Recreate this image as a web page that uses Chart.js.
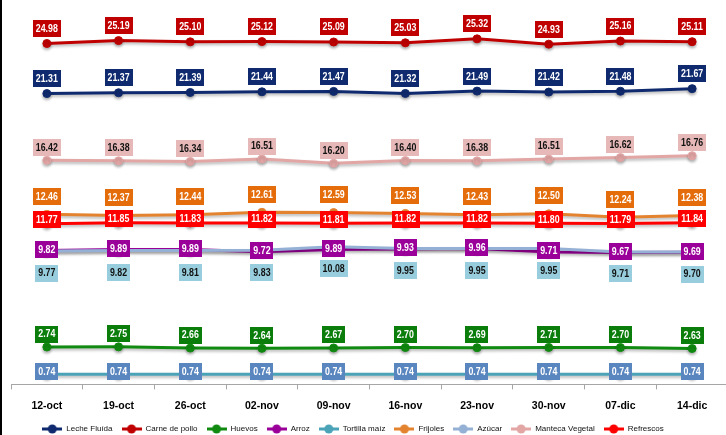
<!DOCTYPE html>
<html><head><meta charset="utf-8">
<script src="https://cdn.jsdelivr.net/npm/chart.js@4"></script>
<style>
html,body{margin:0;padding:0;background:#fff;overflow:hidden;width:726px;height:435px;}
#wrap{position:absolute;left:0;top:0;width:733px;height:449px;}
#edge{position:absolute;left:0;top:0;width:2px;height:435px;background:#000;}
</style></head><body>
<div id="wrap"><canvas id="c"></canvas></div>
<div id="edge"></div>
<script>
const categories = ['12-oct','19-oct','26-oct','02-nov','09-nov','16-nov','23-nov','30-nov','07-dic','14-dic'];
const seriesNames = ['Leche Fluída','Carne de pollo','Huevos','Arroz','Tortilla maíz','Frijoles','Azúcar','Manteca Vegetal','Refrescos'];
const lecheFluida   = [21.31,21.37,21.39,21.44,21.47,21.32,21.49,21.42,21.48,21.67];
const carneDePollo  = [24.98,25.19,25.10,25.12,25.09,25.03,25.32,24.93,25.16,25.11];
const huevos        = [2.74,2.75,2.66,2.64,2.67,2.70,2.69,2.71,2.70,2.63];
const arroz         = [9.82,9.89,9.89,9.72,9.89,9.93,9.96,9.71,9.67,9.69];
const tortillaMaiz  = [0.74,0.74,0.74,0.74,0.74,0.74,0.74,0.74,0.74,0.74];
const frijoles      = [12.46,12.37,12.44,12.61,12.59,12.53,12.43,12.50,12.24,12.38];
const azucar        = [9.77,9.82,9.81,9.83,10.08,9.95,9.95,9.95,9.71,9.70];
const mantecaVeg    = [16.42,16.38,16.34,16.51,16.20,16.40,16.38,16.51,16.62,16.76];
const refrescos     = [11.77,11.85,11.83,11.82,11.81,11.82,11.82,11.80,11.79,11.84];

const seriesValues = [lecheFluida,carneDePollo,huevos,arroz,tortillaMaiz,frijoles,azucar,mantecaVeg,refrescos];
// styles: line colour, label box colour, label text colour, label vertical offset
const styles = [
  {line:'#0F2A6E', box:'#0F2A6E', text:'#fff', off:-15},
  {line:'#C00000', box:'#C00000', text:'#fff', off:-15},
  {line:'#108A10', box:'#0A7D0A', text:'#fff', off:-13},
  {line:'#9A0099', box:'#9A0099', text:'#fff', off:-1},
  {line:'#4BA3B8', box:'#5A86C0', text:'#fff', off:-3},
  {line:'#E4832F', box:'#E46C0A', text:'#fff', off:-18},
  {line:'#95B0D5', box:'#97CDDC', text:'#111', off:22},
  {line:'#E2A6A5', box:'#E6B9B8', text:'#111', off:-13},
  {line:'#FF0000', box:'#FF0000', text:'#fff', off:-4}
];

const FONT = '"Liberation Sans Narrow","Liberation Sans",sans-serif';

function makeMarker(color){
  const c = document.createElement('canvas');
  c.width = 20; c.height = 10;
  const g = c.getContext('2d');
  g.strokeStyle = color; g.lineWidth = 3;
  g.beginPath(); g.moveTo(0,5); g.lineTo(20,5); g.stroke();
  g.fillStyle = color;
  g.beginPath(); g.arc(10,5,4.5,0,Math.PI*2); g.fill();
  return c;
}
const markers = styles.map(s => makeMarker(s.line));

const datasets = seriesValues.map((vals,i) => ({
  label: seriesNames[i],
  data: vals,
  borderColor: styles[i].line,
  backgroundColor: styles[i].line,
  pointBackgroundColor: styles[i].line,
  pointBorderColor: styles[i].line,
  pointRadius: 4,
  pointBorderWidth: 1,
  borderWidth: 3,
  tension: 0,
  order: seriesValues.length - i
}));

const shadowPlugin = {
  id: 'shadow',
  beforeDatasetDraw(chart){
    const ctx = chart.ctx; ctx.save();
    ctx.shadowColor = 'rgba(0,0,0,0.28)'; ctx.shadowBlur = 3; ctx.shadowOffsetY = 2;
  },
  afterDatasetDraw(chart){ chart.ctx.restore(); }
};

const SQUEEZE = 0.84;
const labelPlugin = {
  id: 'boxLabels',
  afterDatasetsDraw(chart){
    const ctx = chart.ctx;
    ctx.save();
    ctx.font = 'bold 10.5px ' + FONT;
    ctx.textAlign = 'center';
    ctx.textBaseline = 'middle';
    chart.data.datasets.forEach((ds,i) => {
      const meta = chart.getDatasetMeta(i);
      const st = styles[i];
      meta.data.forEach((pt,j) => {
        const txt = ds.data[j].toFixed(2);
        const w = ctx.measureText(txt).width * SQUEEZE + 6;
        const h = 17;
        const cx = pt.x, cy = pt.y + st.off;
        ctx.fillStyle = st.box;
        ctx.fillRect(Math.round(cx - w/2), Math.round(cy - h/2), Math.round(w), h);
        ctx.fillStyle = st.text;
        ctx.save();
        ctx.translate(cx, cy + 0.5);
        ctx.scale(SQUEEZE, 1);
        ctx.fillText(txt, 0, 0);
        ctx.restore();
      });
    });
    ctx.restore();
  }
};

const legendShift = {
  id: 'legendShift',
  afterLayout(chart){
    const lg = chart.legend;
    if (lg){ lg.left -= 19; lg.right -= 19; lg.top -= 6; lg.bottom -= 6; }
  }
};

new Chart(document.getElementById('c'), {
  type: 'line',
  data: { labels: categories, datasets },
  options: {
    responsive: true,
    maintainAspectRatio: false,
    animation: false,
    layout: { padding: { left: 11, right: 0, top: 0, bottom: 0 } },
    scales: {
      y: { display: false, min: 0, max: 27.8 },
      x: {
        offset: true,
        grid: { display: true, drawOnChartArea: false, drawTicks: true, tickLength: 5, color: '#a6a6a6', offset: true },
        border: { display: true, color: '#a6a6a6', width: 1 },
        ticks: { color: '#000', font: { family: FONT, size: 10.5, weight: 'bold' }, padding: 10, maxRotation: 0, autoSkip: false }
      }
    },
    plugins: {
      tooltip: { enabled: false },
      legend: {
        position: 'bottom',
        labels: {
          usePointStyle: true,
          pointStyleWidth: 20,
          boxHeight: 8,
          padding: 9,
          color: '#111',
          font: { family: FONT, size: 8 },
          generateLabels: (chart) => chart.data.datasets.map((ds,i) => ({
            text: ds.label, pointStyle: markers[i], fillStyle: ds.borderColor,
            strokeStyle: ds.borderColor, lineWidth: 0, hidden: false, datasetIndex: i, fontColor: '#111'
          }))
        }
      }
    }
  },
  plugins: [shadowPlugin, labelPlugin, legendShift]
});
</script>
</body></html>
